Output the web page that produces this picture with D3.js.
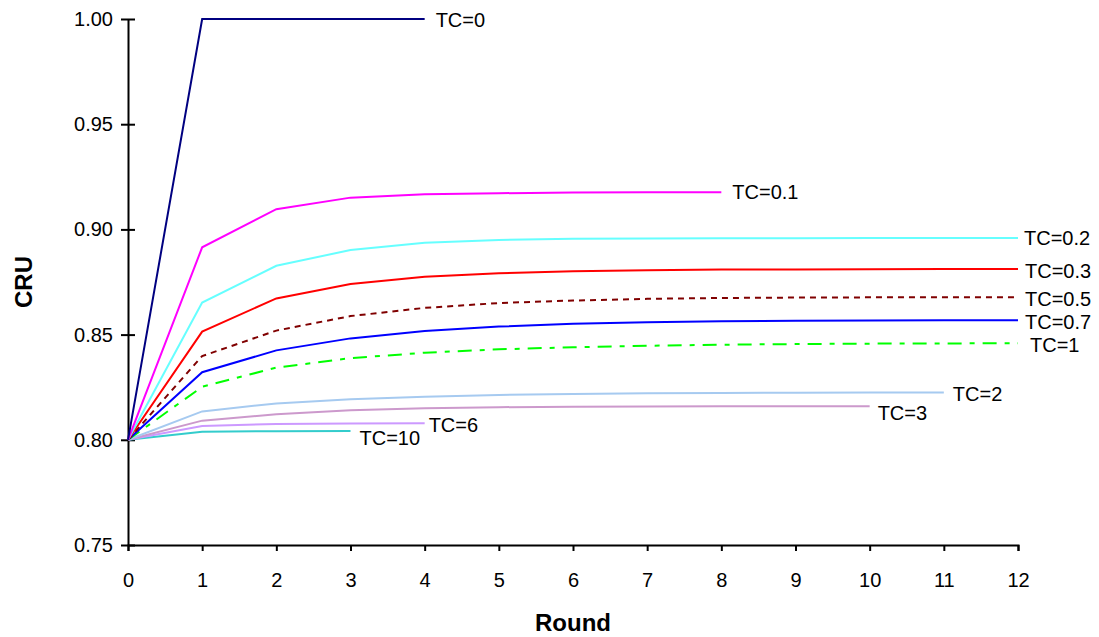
<!DOCTYPE html>
<html>
<head>
<meta charset="utf-8">
<script src="https://cdn.jsdelivr.net/npm/d3@7"></script>
<style>
    body { margin: 0; background: #fff; }
    text { font-family: "Liberation Sans", Arial, sans-serif; }
</style>
</head>
<body>
<div id="chart"></div>
<script>
// data
const rounds = [0, 1, 2, 3, 4, 5, 6, 7, 8, 9, 10, 11, 12];
const yTicks = [0.75, 0.80, 0.85, 0.90, 0.95, 1.00];

const tc0 = [0.80, 1.00, 1.00, 1.00, 1.00];
const tc01 = [0.80, 0.8915, 0.9096, 0.9151, 0.9167, 0.9172, 0.9175, 0.9176, 0.9176];
const tc02 = [0.80, 0.8652, 0.8827, 0.8902, 0.8937, 0.8950, 0.8955, 0.8957, 0.8958, 0.8958, 0.8959, 0.8959, 0.8959];
const tc03 = [0.80, 0.8514, 0.8672, 0.8740, 0.8775, 0.8792, 0.8801, 0.8806, 0.8809, 0.8810, 0.8811, 0.8812, 0.8812];
const tc05 = [0.80, 0.8398, 0.8519, 0.8588, 0.8627, 0.8650, 0.8662, 0.8670, 0.8674, 0.8676, 0.8677, 0.8678, 0.8678];
const tc07 = [0.80, 0.8321, 0.8425, 0.8482, 0.8517, 0.8538, 0.8551, 0.8559, 0.8563, 0.8566, 0.8567, 0.8568, 0.8568];
const tc1 = [0.80, 0.8252, 0.8343, 0.8388, 0.8414, 0.8430, 0.8440, 0.8447, 0.8452, 0.8455, 0.8457, 0.8458, 0.8459];
const tc2 = [0.80, 0.8135, 0.8173, 0.8193, 0.8205, 0.8213, 0.8218, 0.8221, 0.8223, 0.8224, 0.8225, 0.8225];
const tc3 = [0.80, 0.8091, 0.8121, 0.8140, 0.8150, 0.8155, 0.8157, 0.8158, 0.8159, 0.8160, 0.8160];
const tc6 = [0.80, 0.8066, 0.8075, 0.8078, 0.8079];
const tc10 = [0.80, 0.8038, 0.8041, 0.8042];

const seriesNames = ["TC=0", "TC=0.1", "TC=0.2", "TC=0.3", "TC=0.5", "TC=0.7", "TC=1", "TC=2", "TC=3", "TC=6", "TC=10"];
const seriesValues = [tc0, tc01, tc02, tc03, tc05, tc07, tc1, tc2, tc3, tc6, tc10];

// styles per series: colour, dash, label offset
const styles = [
    {color: "#000080", dash: null, dx: 11, dy: 1},
    {color: "#ff00ff", dash: null, dx: 11, dy: 0},
    {color: "#66ffff", dash: null, dx: 6, dy: 0},
    {color: "#ff0000", dash: null, dx: 7, dy: 2},
    {color: "#800000", dash: "6,5", dx: 7, dy: 2},
    {color: "#0000ff", dash: null, dx: 7, dy: 2},
    {color: "#00ff00", dash: "14,8,5,8", dx: 12, dy: 2},
    {color: "#a6caf0", dash: null, dx: 9, dy: 2},
    {color: "#cc99cc", dash: null, dx: 8, dy: 7},
    {color: "#cc99ff", dash: null, dx: 4, dy: 2},
    {color: "#33cccc", dash: null, dx: 9, dy: 7}
];

const width = 1099, height = 637;
const margin = {top: 19, right: 81, bottom: 92, left: 128};
const fontTick = 20, fontTitle = 24;

const svg = d3.select("#chart")
    .append("svg")
    .attr("width", width)
    .attr("height", height);

const x = d3.scaleLinear().domain([0, 12]).range([margin.left, width - margin.right]);
const y = d3.scaleLinear().domain([0.75, 1.00]).range([height - margin.bottom, margin.top]);

// x axis
const xAxis = svg.append("g")
    .attr("transform", `translate(0, ${y(0.75)})`)
    .call(d3.axisBottom(x).tickValues(rounds).tickSize(6).tickPadding(22).tickFormat(d3.format("d")));
xAxis.select(".domain").attr("stroke", "#000").attr("stroke-width", 2);
xAxis.selectAll(".tick line").attr("stroke", "#000").attr("stroke-width", 2);
xAxis.selectAll(".tick text").attr("font-size", fontTick).attr("fill", "#000")
    .style("font-family", "'Liberation Sans', Arial, sans-serif");

// y axis (ticks cross the axis line)
const yAxis = svg.append("g")
    .attr("transform", `translate(${x(0)}, 0)`)
    .call(d3.axisLeft(y).tickValues(yTicks).tickSizeInner(7).tickSizeOuter(0).tickPadding(8).tickFormat(d3.format(".2f")));
yAxis.select(".domain").attr("stroke", "#000").attr("stroke-width", 2);
yAxis.selectAll(".tick line").attr("x2", 7).attr("x1", -7).attr("stroke", "#000").attr("stroke-width", 2);
yAxis.selectAll(".tick text").attr("font-size", fontTick).attr("fill", "#000")
    .style("font-family", "'Liberation Sans', Arial, sans-serif");

// axis titles
svg.append("text")
    .attr("x", (x(0) + x(12)) / 2)
    .attr("y", 631)
    .attr("text-anchor", "middle")
    .attr("font-size", fontTitle)
    .attr("font-weight", "bold")
    .text("Round");

svg.append("text")
    .attr("transform", `translate(32, ${(y(0.75) + y(1.0)) / 2}) rotate(-90)`)
    .attr("text-anchor", "middle")
    .attr("font-size", fontTitle)
    .attr("font-weight", "bold")
    .text("CRU");

const line = d3.line()
    .x((d, i) => x(rounds[i]))
    .y(d => y(d));

// draw lower series first so the upper ones sit on top
for (let k = seriesValues.length - 1; k >= 0; k--) {
    const vals = seriesValues[k];
    const st = styles[k];
    svg.append("path")
        .datum(vals)
        .attr("fill", "none")
        .attr("stroke", st.color)
        .attr("stroke-width", 2)
        .attr("stroke-dasharray", st.dash)
        .attr("d", line);

    const last = vals.length - 1;
    svg.append("text")
        .attr("x", x(rounds[last]) + st.dx)
        .attr("y", y(vals[last]) + st.dy)
        .attr("dy", "0.35em")
        .attr("font-size", fontTick)
        .attr("fill", "#000")
        .text(seriesNames[k]);
}
</script>
</body>
</html>
